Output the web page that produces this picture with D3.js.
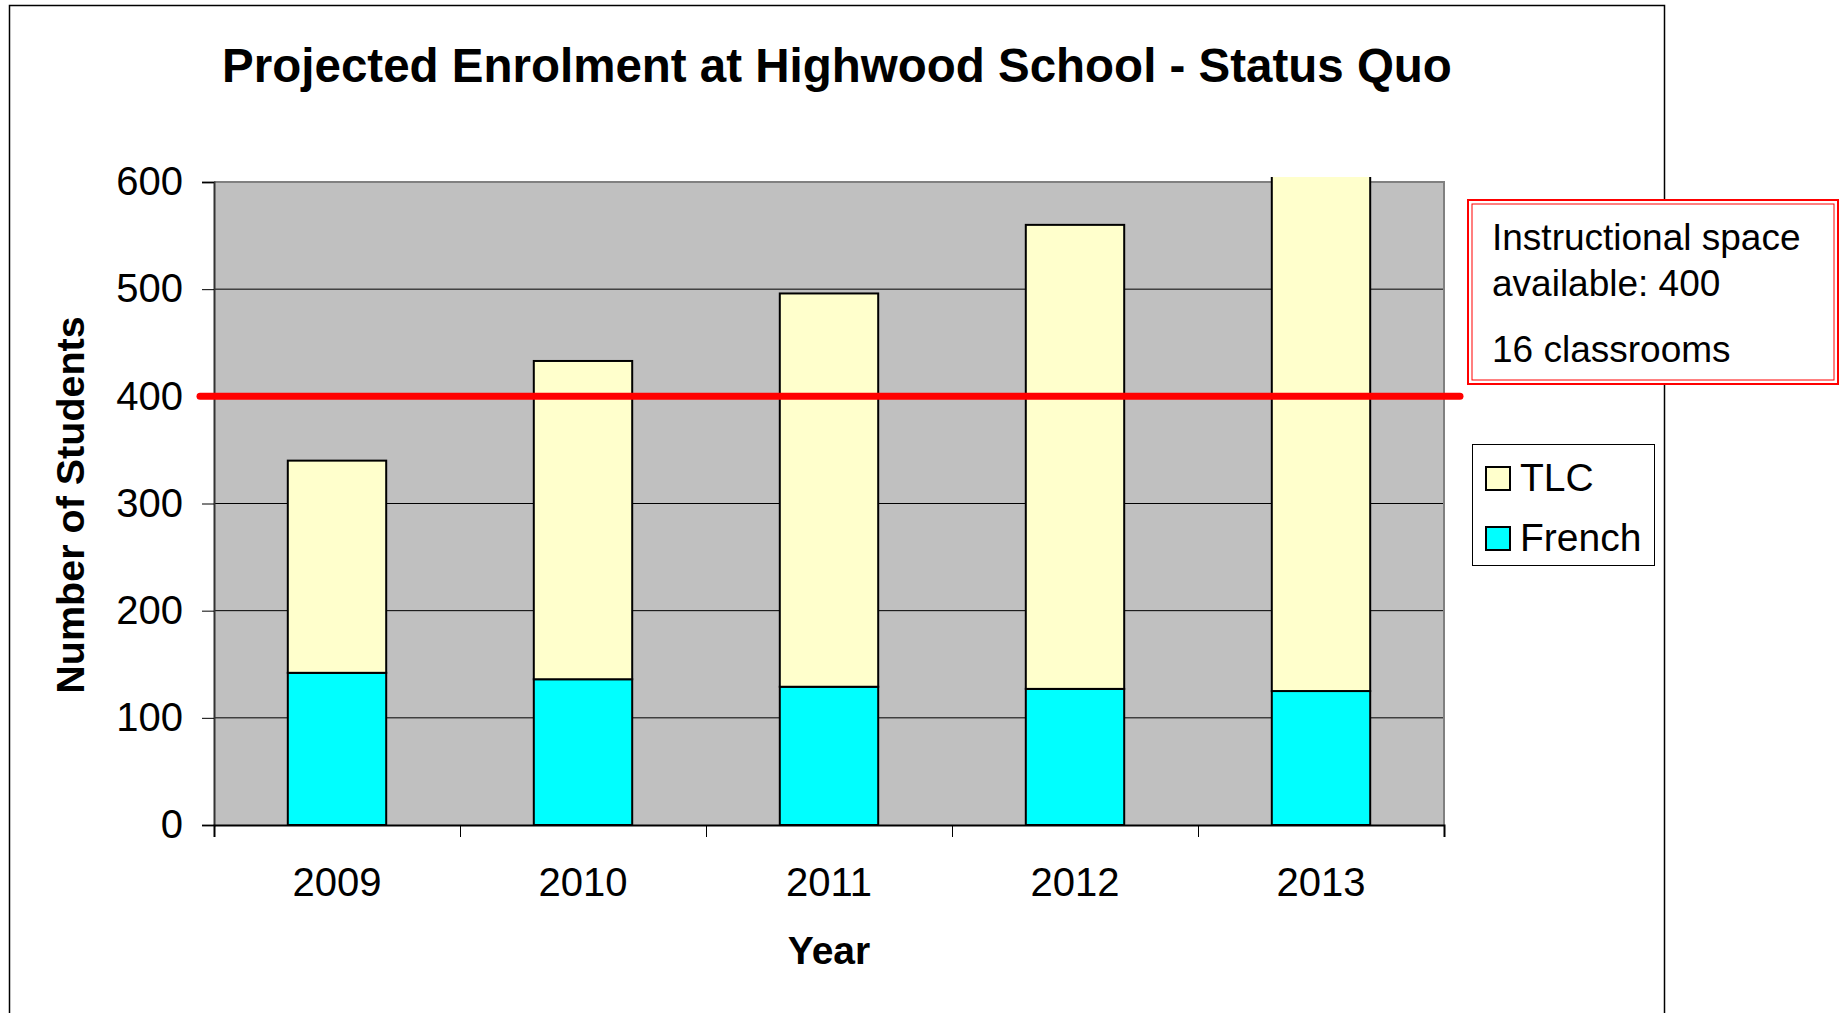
<!DOCTYPE html>
<html>
<head>
<meta charset="utf-8">
<script src="https://cdn.jsdelivr.net/npm/d3@7"></script>
<style>
  body { margin: 0; background: #fff; }
  text { font-family: "Liberation Sans", Arial, sans-serif; }
</style>
</head>
<body>
<div id="chart"></div>
<script>
// data
var years = ["2009", "2010", "2011", "2012", "2013"];
var french = [142, 136, 129, 127, 125];
var tlc = [198, 297, 367, 433, 497];
var yTicks = [0, 100, 200, 300, 400, 500, 600];
var capacity = 400;
var noteLines = ["Instructional space", "available: 400", "16 classrooms"];
var seriesNames = ["TLC", "French"];
var seriesColors = { TLC: "#FFFFCC", French: "#00FFFF" };

const width = 1843;
const height = 1013;
const margin = { top: 182, bottom: 188, left: 214, right: 399 };

const svg = d3.select("#chart")
  .append("svg")
  .attr("width", width)
  .attr("height", height);

// outer chart frame
svg.append("rect")
  .attr("x", 9.5).attr("y", 5.5)
  .attr("width", 1655).attr("height", 1100)
  .attr("fill", "#fff").attr("stroke", "#000").attr("stroke-width", 1.5);

const x = d3.scaleBand()
  .domain(years)
  .range([margin.left, width - margin.right]);

const y = d3.scaleLinear()
  .domain([0, 600])
  .range([height - margin.bottom, margin.top]);

// plot area
svg.append("rect")
  .attr("x", margin.left).attr("y", y(600))
  .attr("width", x.range()[1] - margin.left)
  .attr("height", y(0) - y(600))
  .attr("fill", "#C0C0C0");

// gridlines
svg.append("g")
  .selectAll("line")
  .data(yTicks.slice(1, -1))
  .join("line")
  .attr("x1", margin.left).attr("x2", x.range()[1])
  .attr("y1", d => y(d)).attr("y2", d => y(d))
  .attr("stroke", "#000").attr("stroke-width", 1);

// top and right border of plot
svg.append("path")
  .attr("d", `M${margin.left},${y(600)}H${x.range()[1]}V${y(0)}`)
  .attr("fill", "none").attr("stroke", "#808080").attr("stroke-width", 2);

// stacked bars
const stacked = years.map((yr, i) => ({ year: yr, French: french[i], TLC: tlc[i] }));
const stack = d3.stack().keys(["French", "TLC"])(stacked);

svg.append("clipPath").attr("id", "clip")
  .append("rect")
  .attr("x", 0).attr("y", y(600) - 5)
  .attr("width", width).attr("height", height);

const barW = x.bandwidth() * 0.4;
svg.append("g")
  .attr("clip-path", "url(#clip)")
  .selectAll("g")
  .data(stack)
  .join("g")
  .attr("fill", d => seriesColors[d.key])
  .selectAll("rect")
  .data(d => d)
  .join("rect")
  .attr("x", d => x(d.data.year) + (x.bandwidth() - barW) / 2)
  .attr("y", d => y(d[1]))
  .attr("width", barW)
  .attr("height", d => y(d[0]) - y(d[1]))
  .attr("stroke", "#000")
  .attr("stroke-width", 2);

// y axis
svg.append("g")
  .attr("transform", `translate(${margin.left},0)`)
  .call(d3.axisLeft(y).tickValues(yTicks).tickSize(12).tickPadding(19))
  .call(g => g.select(".domain").attr("stroke", "#333").attr("stroke-width", 2))
  .call(g => g.selectAll("text").attr("font-size", 40).attr("font-family", "Liberation Sans, Arial").attr("fill", "#000"));

// x axis: boundary ticks
const xb = d3.scaleLinear().domain([0, years.length]).range(x.range());
svg.append("g")
  .attr("transform", `translate(0,${y(0)})`)
  .call(d3.axisBottom(xb).ticks(years.length).tickSize(12).tickFormat(""))
  .call(g => g.select(".domain").attr("stroke", "#000").attr("stroke-width", 2));

// x axis labels
svg.append("g")
  .attr("transform", `translate(0,${y(0)})`)
  .call(d3.axisBottom(x).tickSize(0).tickPadding(43))
  .call(g => g.select(".domain").remove())
  .call(g => g.selectAll("text").attr("font-size", 40).attr("font-family", "Liberation Sans, Arial").attr("fill", "#000"));

// capacity line
svg.append("line")
  .attr("x1", margin.left - 14).attr("x2", x.range()[1] + 16)
  .attr("y1", y(capacity)).attr("y2", y(capacity))
  .attr("stroke", "#FF0000").attr("stroke-width", 7)
  .attr("stroke-linecap", "round");

// titles
svg.append("text")
  .attr("x", 837).attr("y", 82)
  .attr("text-anchor", "middle")
  .attr("font-size", 47.5).attr("font-weight", "bold")
  .text("Projected Enrolment at Highwood School - Status Quo");

svg.append("text")
  .attr("x", (margin.left + x.range()[1]) / 2).attr("y", 964)
  .attr("text-anchor", "middle")
  .attr("font-size", 39).attr("font-weight", "bold")
  .text("Year");

svg.append("text")
  .attr("transform", "translate(84,505) rotate(-90)")
  .attr("text-anchor", "middle")
  .attr("font-size", 39.5).attr("font-weight", "bold")
  .text("Number of Students");

// annotation box
const note = svg.append("g");
note.append("rect")
  .attr("x", 1468).attr("y", 200).attr("width", 370).attr("height", 184)
  .attr("fill", "#fff").attr("stroke", "#FF0000").attr("stroke-width", 2);
note.append("rect")
  .attr("x", 1472).attr("y", 204).attr("width", 362).attr("height", 176)
  .attr("fill", "none").attr("stroke", "#FF0000").attr("stroke-width", 1);
note.selectAll("text")
  .data(noteLines)
  .join("text")
  .attr("x", 1492)
  .attr("y", (d, i) => [250, 295.5, 362][i])
  .attr("font-size", 37)
  .text(d => d);

// legend
const legend = svg.append("g");
legend.append("rect")
  .attr("x", 1472.5).attr("y", 444.5).attr("width", 182).attr("height", 121)
  .attr("fill", "#fff").attr("stroke", "#000").attr("stroke-width", 1);
const items = legend.selectAll("g")
  .data(seriesNames)
  .join("g")
  .attr("transform", (d, i) => `translate(1486,${467 + i * 60})`);
items.append("rect")
  .attr("width", 24).attr("height", 23)
  .attr("fill", d => seriesColors[d])
  .attr("stroke", "#000").attr("stroke-width", 2);
items.append("text")
  .attr("x", 34).attr("y", 24)
  .attr("font-size", 39)
  .text(d => d);
</script>
</body>
</html>
